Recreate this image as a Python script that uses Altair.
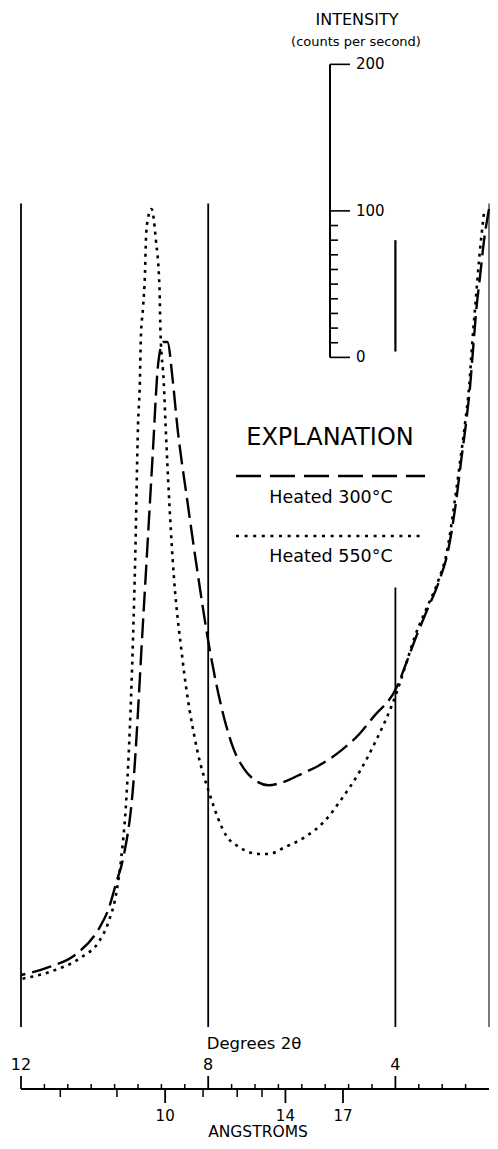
import altair as alt
import pandas as pd

# ---- data (x in degrees 2-theta, y in counts per second above chart base) ----
deg_300 = [12.00, 11.39, 10.82, 10.34, 10.13, 9.96, 9.82, 9.61, 9.39, 9.18, 9.08, 9.02, 8.95,
           8.87, 8.76, 8.66, 8.45, 8.24, 7.97, 7.61, 7.46, 7.23, 6.98, 6.71, 6.41, 5.99, 5.66,
           5.15, 4.77, 4.46, 3.97, 3.76, 3.55, 3.34, 3.05, 2.88, 2.71, 2.59, 2.48, 2.40, 2.34, 2.27,
           2.19, 2.11, 2.00]
cnt_300 = [35.5, 41.0, 49.8, 66.9, 80.5, 99.0, 114.7, 162, 278, 394, 449, 463, 467.5,
           467.5, 442, 410, 360, 313, 258, 205, 190, 176, 168, 165, 167, 173, 178,
           189, 200, 212, 232, 249.1, 266.9, 283.2, 305.8, 324.2, 357.0, 387.7, 415.0, 438.8,
           462.7, 490.0, 512.6, 535.8, 558.3]

deg_550 = [12.00, 11.33, 10.70, 10.34, 10.13, 9.96, 9.86, 9.75, 9.65, 9.56, 9.50, 9.46, 9.44,
           9.39, 9.35, 9.33, 9.29, 9.21, 9.12, 9.04, 9.02, 8.95, 8.91, 8.76, 8.55, 8.24, 7.97,
           7.61, 7.34, 6.92, 6.71, 6.35, 5.93, 5.51, 5.15, 4.77, 4.46, 3.97, 3.76, 3.58, 3.37, 3.07,
           2.90, 2.74, 2.61, 2.50, 2.42, 2.36, 2.29, 2.21, 2.11]
cnt_550 = [32.8, 38.2, 47.8, 58.0, 71.7, 92.1, 114.7, 155.6, 223.9, 319.4, 410.2, 440.2, 469.6,
           492.1, 515.3, 537.8, 551.5, 558.3, 537.8, 503.7, 474.3, 440.2, 410.2, 319.4, 251.2,
           189.7, 159, 130.4, 122.9, 118.1, 118.1, 122.9, 129.7, 140.6, 155.6, 174.0, 192.5, 228.6,
           249.1, 266.9, 283.2, 305.8, 324.2, 357.0, 387.7, 415.0, 438.8, 466.1, 493.4, 524.2, 554.9]

grid_deg = [12, 8, 4]
grid_top = [562, 562, 300]
edge_deg = 2
edge_top = 562

deg_major = [12, 8, 4]
deg_major_labels = ["12", "8", "4"]
deg_minor = [11.5, 11, 10.5, 10, 9.5, 9, 8.5, 7.5, 7, 6.5, 6, 5.5, 5, 4.5, 3.5, 3, 2.5]

ang_vals = [8, 9, 10, 11, 12, 13, 14, 17]
ang_deg = [11.16, 9.95, 8.92, 8.11, 7.38, 6.85, 6.35, 5.12]
ang_labeled = [10, 14, 17]

bar_zero = 457          # counts level where the intensity scale bar starts
bar_major = [0, 100, 200]
bar_minor = [10, 20, 30, 40, 50, 60, 70, 80, 90]
marker_deg = 4.0
marker_cnt = [461, 537]

FONT = "DejaVu Sans"
W, H = 468, 1011
xs = alt.Scale(domain=[12, 2], nice=False, zero=False)
ys = alt.Scale(domain=[0, 690], nice=False, zero=False)


def X(f):
    return alt.X(f, type="quantitative", scale=xs, axis=None)


def Y(f):
    return alt.Y(f, type="quantitative", scale=ys, axis=None)


one = pd.DataFrame({"a": [0]})

df300 = pd.DataFrame({"deg": deg_300, "cnt": cnt_300})
df550 = pd.DataFrame({"deg": deg_550, "cnt": cnt_550})

line300 = alt.Chart(df300).mark_line(
    color="black", strokeWidth=2.4, strokeDash=[20, 7], interpolate="monotone"
).encode(x=X("deg"), y=Y("cnt"), order="deg:Q")

line550 = alt.Chart(df550).mark_line(
    color="black", strokeWidth=2.6, strokeDash=[3, 5], interpolate="monotone"
).encode(x=X("deg"), y=Y("cnt"), order="deg:Q")

grid = alt.Chart(pd.DataFrame({"deg": grid_deg, "top": grid_top, "bot": [0] * len(grid_deg)})).mark_rule(
    color="black", strokeWidth=1.8
).encode(x=X("deg"), y=Y("top"), y2="bot:Q")

edge = alt.Chart(pd.DataFrame({"deg": [edge_deg], "top": [edge_top], "bot": [0]})).mark_rule(
    color="#333333", strokeWidth=1.3
).encode(x=X("deg"), y=Y("top"), y2="bot:Q")

marker = alt.Chart(pd.DataFrame({"deg": [marker_deg], "c0": [marker_cnt[0]], "c1": [marker_cnt[1]]})).mark_rule(
    color="black", strokeWidth=2.2
).encode(x=X("deg"), y=Y("c0"), y2="c1:Q")

# intensity scale bar
BX = 309
bar_df = pd.DataFrame({"c0": [bar_zero], "c1": [bar_zero + 200]})
bar = alt.Chart(bar_df).mark_rule(color="black", strokeWidth=2).encode(
    x=alt.value(BX), y=Y("c0"), y2="c1:Q")
bar_maj_df = pd.DataFrame({"v": bar_major, "c": [bar_zero + v for v in bar_major],
                           "lab": [str(v) for v in bar_major]})
bar_maj = alt.Chart(bar_maj_df).mark_rule(color="black", strokeWidth=1.6).encode(
    x=alt.value(BX), x2=alt.value(BX + 20), y=Y("c"))
bar_min = alt.Chart(pd.DataFrame({"c": [bar_zero + v for v in bar_minor]})).mark_rule(
    color="black", strokeWidth=1.6).encode(x=alt.value(BX), x2=alt.value(BX + 8), y=Y("c"))
bar_lab = alt.Chart(bar_maj_df).mark_text(
    align="left", baseline="middle", font=FONT, fontSize=15
).encode(x=alt.value(BX + 26), y=Y("c"), text="lab:N")

# bottom axes (pixel rows below the plot area)
AX = 1073
axis_line = alt.Chart(pd.DataFrame({"a": [12], "b": [2]})).mark_rule(color="black", strokeWidth=1.8).encode(
    x=X("a"), x2="b:Q", y=alt.value(AX))
maj_df = pd.DataFrame({"deg": deg_major, "lab": deg_major_labels})
maj_ticks = alt.Chart(maj_df).mark_rule(color="black", strokeWidth=1.8).encode(
    x=X("deg"), y=alt.value(AX - 13), y2=alt.value(AX))
min_ticks = alt.Chart(pd.DataFrame({"deg": deg_minor})).mark_rule(color="black", strokeWidth=1.5).encode(
    x=X("deg"), y=alt.value(AX - 5), y2=alt.value(AX))
maj_labels = alt.Chart(maj_df).mark_text(font=FONT, fontSize=16, baseline="middle").encode(
    x=X("deg"), y=alt.value(1049), text="lab:N")

ang_df = pd.DataFrame({"deg": ang_deg, "ang": ang_vals})
ang_df["long"] = ang_df["ang"].isin(ang_labeled)
ang_short = alt.Chart(ang_df[~ang_df["long"]]).mark_rule(color="black", strokeWidth=1.5).encode(
    x=X("deg"), y=alt.value(AX), y2=alt.value(AX + 8))
ang_long = alt.Chart(ang_df[ang_df["long"]]).mark_rule(color="black", strokeWidth=1.8).encode(
    x=X("deg"), y=alt.value(AX), y2=alt.value(AX + 14))
ang_lab = alt.Chart(ang_df[ang_df["long"]].assign(lab=lambda d: d["ang"].astype(str))).mark_text(
    font=FONT, fontSize=15, baseline="middle").encode(x=X("deg"), y=alt.value(1100), text="lab:N")


def label(txt, x, y, size, **kw):
    return alt.Chart(pd.DataFrame({"t": [txt]})).mark_text(
        font=FONT, fontSize=size, baseline="middle", align="center", **kw
    ).encode(x=alt.value(x), y=alt.value(y), text="t:N")


texts = [
    label("INTENSITY", 336, 4, 16),
    label("(counts per second)", 335, 26, 13),
    label("EXPLANATION", 309, 422, 24),
    label("Heated 300°C", 310, 482, 17.5),
    label("Heated 550°C", 310, 541, 17.5),
    label("Degrees 2θ", 233, 1028, 16.5),
    label("ANGSTROMS", 237, 1116, 15.5),
]

leg_dash = alt.Chart(one).mark_rule(color="black", strokeWidth=2.4, strokeDash=[25, 9]).encode(
    x=alt.value(215), x2=alt.value(404), y=alt.value(460))
leg_dot = alt.Chart(one).mark_rule(color="black", strokeWidth=2.6, strokeDash=[3, 5.6]).encode(
    x=alt.value(215), x2=alt.value(404), y=alt.value(520))

chart = alt.layer(
    grid, edge, marker, bar, bar_maj, bar_min, bar_lab,
    axis_line, maj_ticks, min_ticks, maj_labels, ang_short, ang_long, ang_lab,
    leg_dash, leg_dot, *texts, line550, line300,
).properties(
    width=W, height=H,
    autosize=alt.AutoSizeParams(type="none"),
    padding={"left": 13, "top": 8, "right": 1, "bottom": 113},
    background="white",
).configure_view(stroke=None)

chart.save("out.html", embed_options={"renderer": "svg", "actions": False})
